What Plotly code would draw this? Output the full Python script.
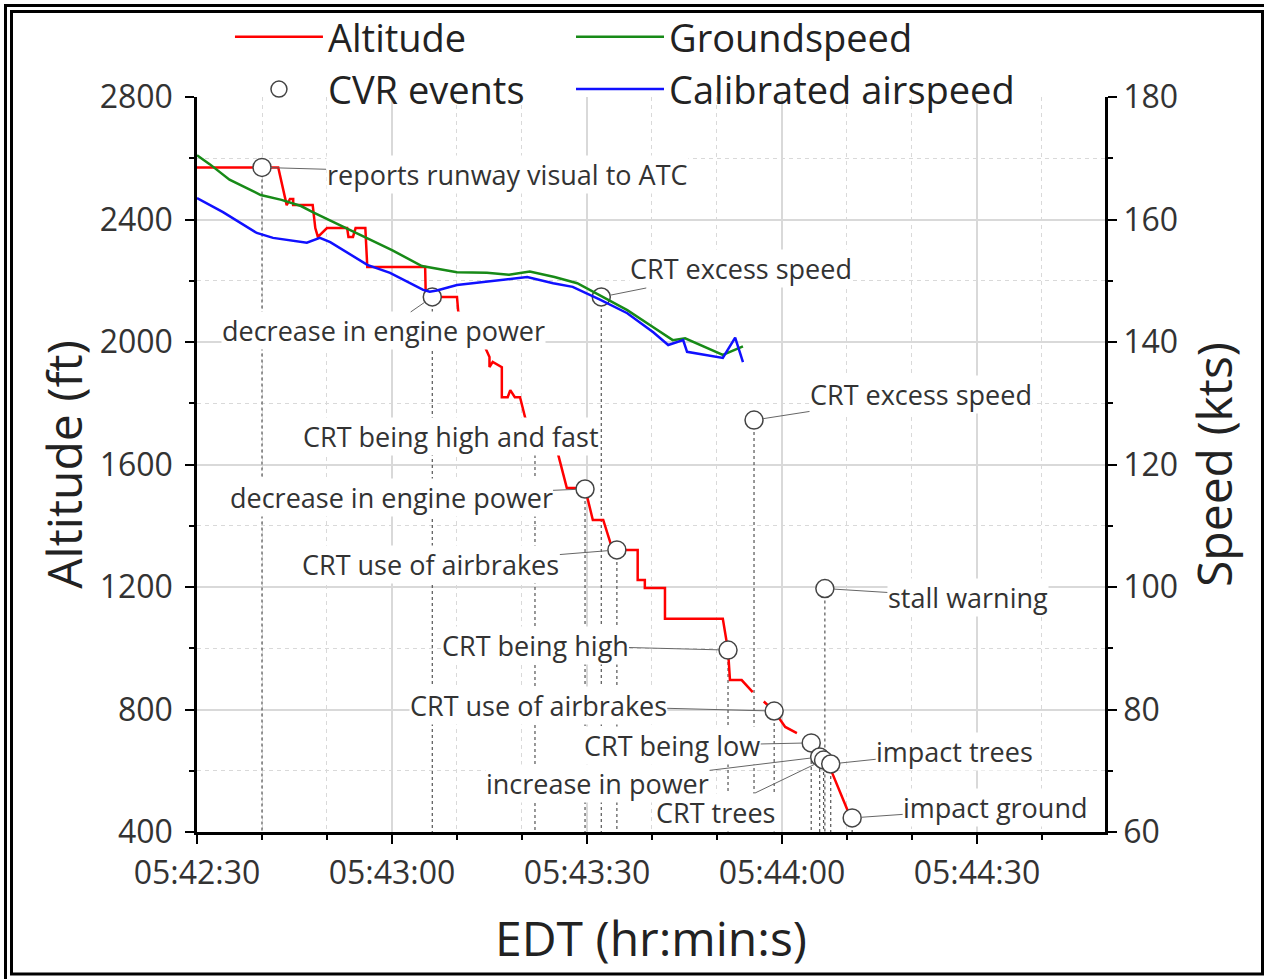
import pandas as pd
import plotly.graph_objects as go

BASE = pd.Timestamp("2019-07-01 05:42:30")

# ---------------- data (seconds after 05:42:30) ----------------
alt_t = [0, 12.5, 13.8, 14.3, 14.8, 14.8, 17.8, 18.2, 18.6, 20.0, 23.1, 23.3, 24.0, 24.4, 25.9,
         26.2, 35.1, 35.2, 40.0, 40.2, 43.9, 44.3, 45.0, 45.0, 45.5, 46.9, 46.9, 47.8, 48.2,
         48.9, 49.7, 50.5, 52.8, 55.5, 56.9, 59.7, 60.9, 62.5, 63.8, 64.6, 67.8, 67.8, 68.9,
         68.9, 72.0, 72.0, 80.9, 81.7, 82.0, 83.8, 85.5, 86.3, 87.2, 88.8, 90.5, 92.3, 93.2,
         94.0, 95.1, 97.1, 100.2]
alt_ft = [2570, 2570, 2447, 2467, 2467, 2447, 2447, 2372, 2343, 2372, 2372, 2343, 2343, 2372, 2372,
          2245, 2245, 2147, 2147, 2098, 2040, 1984, 1951, 1918, 1935, 1918, 1820, 1820, 1843,
          1820, 1820, 1752, 1638, 1638, 1523, 1523, 1419, 1419, 1331, 1321, 1321, 1223, 1223,
          1197, 1197, 1096, 1096, 994, 896, 896, 857, None, 826, 795, 743, 723, None,
          700, 668, 625, 465]

gs_t = [0, 2, 5, 7, 9.8, 13, 16, 17.8, 21, 24.6, 28, 30, 34.6, 37, 40, 44.6, 48, 51.2, 55,
        58.5, 62, 66.2, 70.2, 73.2, 75.1, 80.9, 84]
gs_kts = [170.5, 169.0, 166.5, 165.4, 164.0, 163.2, 162.2, 161.2, 159.6, 157.8, 156.0, 155.0,
          152.4, 152.0, 151.4, 151.3, 151.0, 151.5, 150.6, 149.6, 147.6, 145.2, 142.4, 140.3,
          140.6, 137.9, 139.3]

cas_t = [0, 4, 9.2, 11.7, 16.9, 18.9, 20.5, 26.2, 29.7, 34.8, 35.8, 36.9, 40, 44.6, 50.8,
         54.8, 57.8, 62, 66.2, 70.2, 72.5, 74.8, 75.4, 80.9, 82.8, 84]
cas_kts = [163.5, 161.2, 157.8, 157.0, 156.2, 157.0, 156.3, 152.6, 151.3, 148.5, 148.2, 148.4,
           149.3, 149.8, 150.6, 149.6, 149.0, 146.9, 144.7, 141.6, 139.5, 140.3, 138.4, 137.4,
           140.7, 136.7]

ev_t = [10.0, 36.2, 62.2, 85.7, 52.0, 59.7, 64.6, 96.6, 81.7, 88.8, 94.5, 95.8, 96.4, 97.5, 100.8]
ev_ft = [2570, 2147, 2147, 1745, 1690, 1520, 1321, 1195, 994, 795, 691, 645, 635, 622, 446]
ev_label = ["reports runway visual to ATC", "decrease in engine power", "CRT excess speed",
            "CRT excess speed", "CRT being high and fast", "decrease in engine power",
            "CRT use of airbrakes", "stall warning", "CRT being high", "CRT use of airbrakes",
            "CRT being low", "increase in power", "CRT trees", "impact trees", "impact ground"]

# label placement (pixel offsets of label centre from its event circle) and leader flag
lab_dx = [245, -49, 140, 167, -84, -194, -186, 143, -193, -236, -139, -222, -108, 124, 143]
lab_dy = [7, 34, -28, -26, 0, 8, 15, 9, -5, -6, 3, 27, 52, -13, -10]
leader = [True, True, True, True, False, True, True, True, True, True, True, True, True, True, True]

X_RANGE_S = [0, 139.7]
X_DTICK_S, X_MINOR_S = 30, 10


def tx(seconds):
    return [BASE + pd.Timedelta(seconds=s) for s in seconds]


FONT = "Open Sans"
TXT = "#333333"

# drop lines from each CVR event down to the axis
drop_x, drop_y = [], []
for t, a in zip(ev_t, ev_ft):
    drop_x += [t, t, t]
    drop_y += [a, 400, None]

fig = go.Figure()
fig.add_trace(go.Scatter(x=tx(drop_x), y=drop_y, mode="lines", showlegend=False,
                         line=dict(color="#555555", width=1.2, dash="3px,3px"), hoverinfo="skip"))
fig.add_trace(go.Scatter(x=tx(gs_t), y=gs_kts, yaxis="y2", mode="lines", name="Groundspeed",
                         legend="legend2", line=dict(color="#178a17", width=2.5)))
fig.add_trace(go.Scatter(x=tx(cas_t), y=cas_kts, yaxis="y2", mode="lines", name="Calibrated airspeed",
                         legend="legend2", line=dict(color="#1010ff", width=2.5)))
fig.add_trace(go.Scatter(x=tx(alt_t), y=alt_ft, mode="lines", name="Altitude", legend="legend",
                         line=dict(color="#ff0000", width=2.5)))
fig.add_trace(go.Scatter(x=tx(ev_t), y=ev_ft, mode="markers", name="CVR events", legend="legend",
                         marker=dict(symbol="circle", size=18, color="white",
                                     line=dict(color="#444444", width=1.5))))

for t, a, lab, dx, dy, ld in zip(ev_t, ev_ft, ev_label, lab_dx, lab_dy, leader):
    fig.add_annotation(x=BASE + pd.Timedelta(seconds=t), y=a, xref="x", yref="y", text=lab,
                       showarrow=True, ax=dx, ay=dy, arrowhead=0, arrowwidth=1,
                       arrowcolor="#666666" if ld else "rgba(0,0,0,0)", standoff=9,
                       bgcolor="white", borderpad=0,
                       font=dict(family=FONT, size=27, color=TXT))

grid_major = "#d9d9d9"
grid_minor = "#d9d9d9"
TITLE_FONT = dict(family=FONT, size=48, color="#222222")
TICK_FONT = dict(family=FONT, size=32, color=TXT)
LEG_FONT = dict(family=FONT, size=38, color="#222222")

fig.update_layout(
    width=1264, height=979,
    margin=dict(l=197, r=159, t=97, b=147, autoexpand=False),
    paper_bgcolor="white", plot_bgcolor="white",
    font=dict(family=FONT, color=TXT),
    xaxis=dict(
        type="date",
        range=[BASE + pd.Timedelta(seconds=X_RANGE_S[0]), BASE + pd.Timedelta(seconds=X_RANGE_S[1])],
        tick0=BASE, dtick=X_DTICK_S * 1000, tickformat="%H:%M:%S",
        showline=True, linecolor="black", linewidth=2.5,
        ticks="outside", ticklen=9, tickwidth=2, tickcolor="black",
        tickfont=TICK_FONT, ticklabelstandoff=2,
        showgrid=True, gridcolor=grid_major, gridwidth=1.5, zeroline=False,
        minor=dict(dtick=X_MINOR_S * 1000, ticks="outside", ticklen=5, tickwidth=2,
                   tickcolor="black", showgrid=True, gridcolor=grid_minor, griddash="4px,4px",
                   gridwidth=1),
        title=dict(text="EDT (hr:min:s)", font=TITLE_FONT, standoff=31),
    ),
    yaxis=dict(
        range=[400, 2800], dtick=400, tick0=400,
        showline=True, linecolor="black", linewidth=2.5,
        ticks="outside", ticklen=9, tickwidth=2, tickcolor="black",
        tickfont=TICK_FONT, ticklabelstandoff=6,
        showgrid=True, gridcolor=grid_major, gridwidth=1.5, zeroline=False,
        minor=dict(dtick=200, ticks="outside", ticklen=5, tickwidth=2, tickcolor="black",
                   showgrid=True, gridcolor=grid_minor, griddash="4px,4px", gridwidth=1),
        title=dict(text="Altitude (ft)", font=TITLE_FONT, standoff=2),
    ),
    yaxis2=dict(
        overlaying="y", side="right", range=[60, 180], dtick=20, tick0=60,
        showline=True, linecolor="black", linewidth=2.5,
        ticks="outside", ticklen=9, tickwidth=2, tickcolor="black",
        tickfont=TICK_FONT, ticklabelstandoff=0,
        showgrid=False, zeroline=False,
        minor=dict(dtick=10, ticks="outside", ticklen=5, tickwidth=2, tickcolor="black"),
        title=dict(text="Speed (kts)", font=TITLE_FONT, standoff=22),
    ),
    legend=dict(x=0.0363, y=1.1245, xanchor="left", yanchor="top", bgcolor="rgba(0,0,0,0)",
                font=LEG_FONT, itemwidth=88, tracegroupgap=0),
    legend2=dict(x=0.4119, y=1.1245, xanchor="left", yanchor="top", bgcolor="rgba(0,0,0,0)",
                 font=LEG_FONT, itemwidth=88, tracegroupgap=0),
    showlegend=True,
)

# double frame around the picture (paper coordinates)
W_PLOT, H_PLOT = 1264 - 197 - 159, 979 - 97 - 147


def px_x(p):
    return (p - 197) / W_PLOT


def px_y(p):
    return (979 - 147 - p) / H_PLOT


fig.add_shape(type="rect", xref="paper", yref="paper", x0=px_x(5.5), x1=px_x(1290), y0=px_y(5.5),
              y1=px_y(1000), line=dict(color="black", width=3), layer="above")
fig.add_shape(type="rect", xref="paper", yref="paper", x0=px_x(11.5), x1=px_x(1262.5), y0=px_y(11.5),
              y1=px_y(974), line=dict(color="black", width=3), layer="above")

fig.write_html("out.html", config={"displayModeBar": False},
               post_script="document.body.style.margin='0';")
